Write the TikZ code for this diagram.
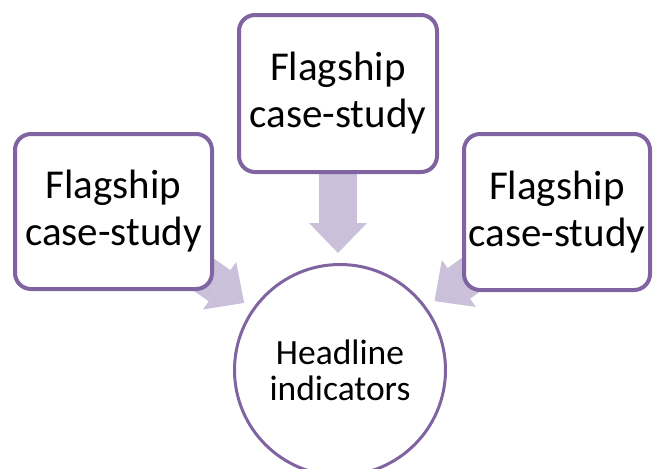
\documentclass[tikz,border=0pt]{standalone}
\usepackage{fontspec}
\setmainfont{Carlito}
\usetikzlibrary{arrows.meta,backgrounds}
\definecolor{rim}{HTML}{8064A2}
\definecolor{flow}{HTML}{CBC0DA}
\tikzset{
  casebox/.style={draw=rim, line width=4pt, fill=white, rounded corners=16pt,
    align=center, inner sep=0pt,
    font=\fontsize{41}{47}\selectfont},
  hubnode/.style={circle, draw=rim, line width=3pt, fill=white, align=center,
    inner sep=0pt, minimum size=211pt,
    font=\fontsize{35.5}{36}\selectfont},
  feed/.style={draw=flow, line width=38pt,
    -{Triangle[width=58pt,length=30pt,line width=0pt]},
    shorten >=10pt}
}
\begin{document}
\begin{tikzpicture}[x=1pt,y=-1pt]
  \useasboundingbox (0,0) rectangle (654,469);
  \clip (0,0) rectangle (654,469);

  % case-study boxes
  \node[casebox, minimum width=197pt, minimum height=155pt] (lbox) at (113.5,211.5)
    {Flagship\\case-study};
  \node[casebox, minimum width=198pt, minimum height=157pt] (tbox) at (338,93.5)
    {Flagship\\case-study};
  \node[casebox, minimum width=186pt, minimum height=156pt] (rbox) at (557,212)
    {Flagship\\case-study};

  % central circle
  \node[hubnode] (hub) at (340,370) {Headline\\indicators};

  % block arrows feeding the circle, behind the boxes
  \begin{scope}[on background layer]
    \draw[feed] (lbox.center) -- (hub);
    \draw[feed] (tbox.center) -- (tbox.center |- hub.north);
    \draw[feed] (rbox.center) -- (hub);
  \end{scope}
\end{tikzpicture}
\end{document}
